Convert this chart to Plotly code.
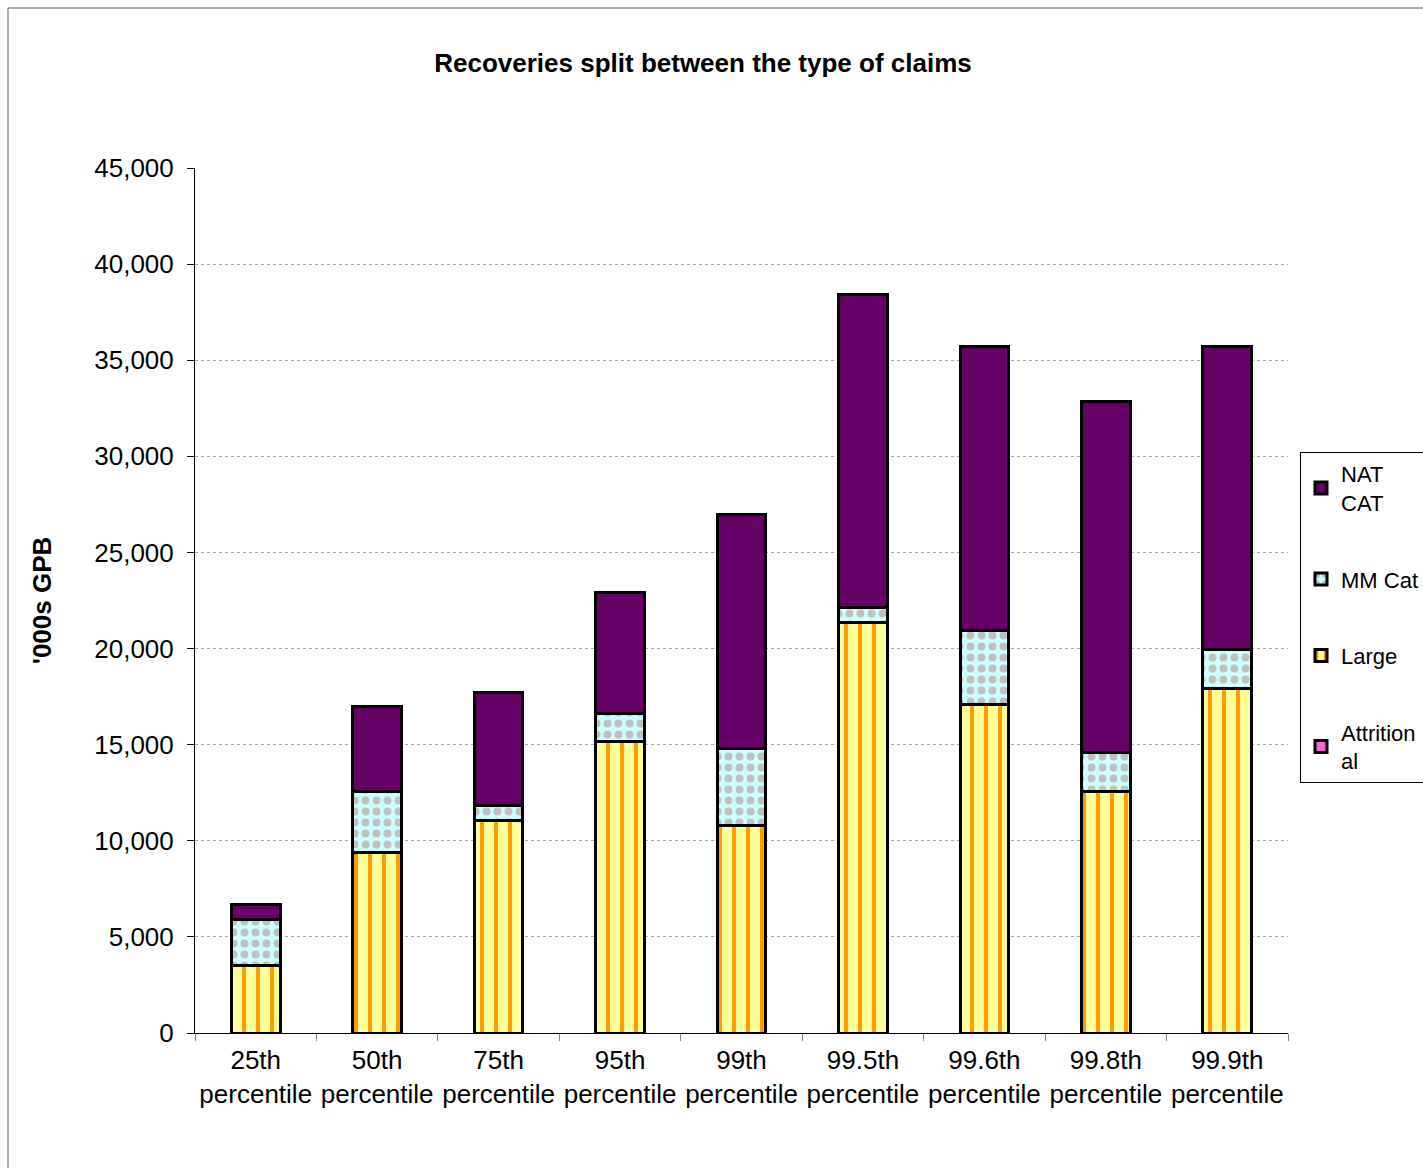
import plotly.graph_objects as go

categories = ["25th<br>percentile", "50th<br>percentile", "75th<br>percentile", "95th<br>percentile",
              "99th<br>percentile", "99.5th<br>percentile", "99.6th<br>percentile",
              "99.8th<br>percentile", "99.9th<br>percentile"]
attritional = [0, 0, 0, 0, 0, 0, 0, 0, 0]
large = [3490, 9370, 11030, 15190, 10770, 21330, 17070, 12540, 17900]
mm_cat = [2390, 3170, 830, 1410, 4010, 830, 3850, 2030, 2030]
nat_cat = [780, 4470, 5830, 6340, 12220, 16240, 14820, 18260, 15810]

FONT = "Liberation Sans, Arial, sans-serif"
line = dict(color="black", width=3)

fig = go.Figure()
fig.add_bar(x=categories, y=attritional, name="Attrition<br>al", legendgroup="a", legendrank=4,
            marker=dict(color="#FF66CC", line=line))
fig.add_bar(x=categories, y=large, name="Large", legendgroup="b", legendrank=3,
            marker=dict(color="#FFFF99", line=line,
                        pattern=dict(shape="|", fgcolor="#FF9900", bgcolor="#FFFF99",
                                     size=14, solidity=0.28, fillmode="replace")))
fig.add_bar(x=categories, y=mm_cat, name="MM Cat", legendgroup="c", legendrank=2,
            marker=dict(color="#CCFFFF", line=line,
                        pattern=dict(shape=".", fgcolor="#C0C0C0", bgcolor="#CCFFFF",
                                     size=11, solidity=0.4, fillmode="replace")))
fig.add_bar(x=categories, y=nat_cat, name="NAT<br>CAT", legendgroup="d", legendrank=1,
            marker=dict(color="#660066", line=line))

W, H = 1423, 1168
L, R, T, B = 195, 1288, 168, 1033
pw, ph = R - L, B - T

fig.update_layout(
    width=W, height=H,
    margin=dict(l=L, r=W - R, t=T, b=H - B, autoexpand=False),
    barmode="stack", bargap=0.6,
    plot_bgcolor="white", paper_bgcolor="white",
    font=dict(family=FONT, size=26, color="black"),
    title=dict(text="<b>Recoveries split between the type of claims</b>",
               x=703 / W, xref="container", xanchor="center",
               y=1 - 63 / H, yref="container", yanchor="middle",
               font=dict(size=26, family=FONT)),
    showlegend=True,
    legend=dict(x=1300 / W, xref="container", xanchor="left",
                y=1 - 452 / H, yref="container", yanchor="top",
                traceorder="grouped", tracegroupgap=45,
                bordercolor="black", borderwidth=1, bgcolor="white",
                font=dict(size=22, family=FONT), itemwidth=30),
    xaxis=dict(showline=True, linecolor="black", linewidth=1, ticks="outside",
               tickson="boundaries", ticklen=7, tickcolor="#808080", tickangle=0,
               tickfont=dict(size=26), showgrid=False, ticklabelstandoff=4),
    yaxis=dict(range=[0, 45000], dtick=5000, tickformat=",d", showline=True,
               linecolor="black", linewidth=1, ticks="outside", ticklen=7,
               tickcolor="black", tickfont=dict(size=26), ticklabelstandoff=8,
               showgrid=True, gridcolor="#A8A8A8", griddash="dot", gridwidth=1,
               zeroline=False,
               title=dict(text="<b>'000s GPB</b>", font=dict(size=26), standoff=35)),
)

fig.add_shape(type="rect", xref="paper", yref="paper",
              x0=(8 - L) / pw, x1=(1440 - L) / pw,
              y0=(B - 1180) / ph, y1=(B - 8) / ph,
              line=dict(color="#606060", width=1), fillcolor="rgba(0,0,0,0)", layer="below")

fig.write_html("out.html")
